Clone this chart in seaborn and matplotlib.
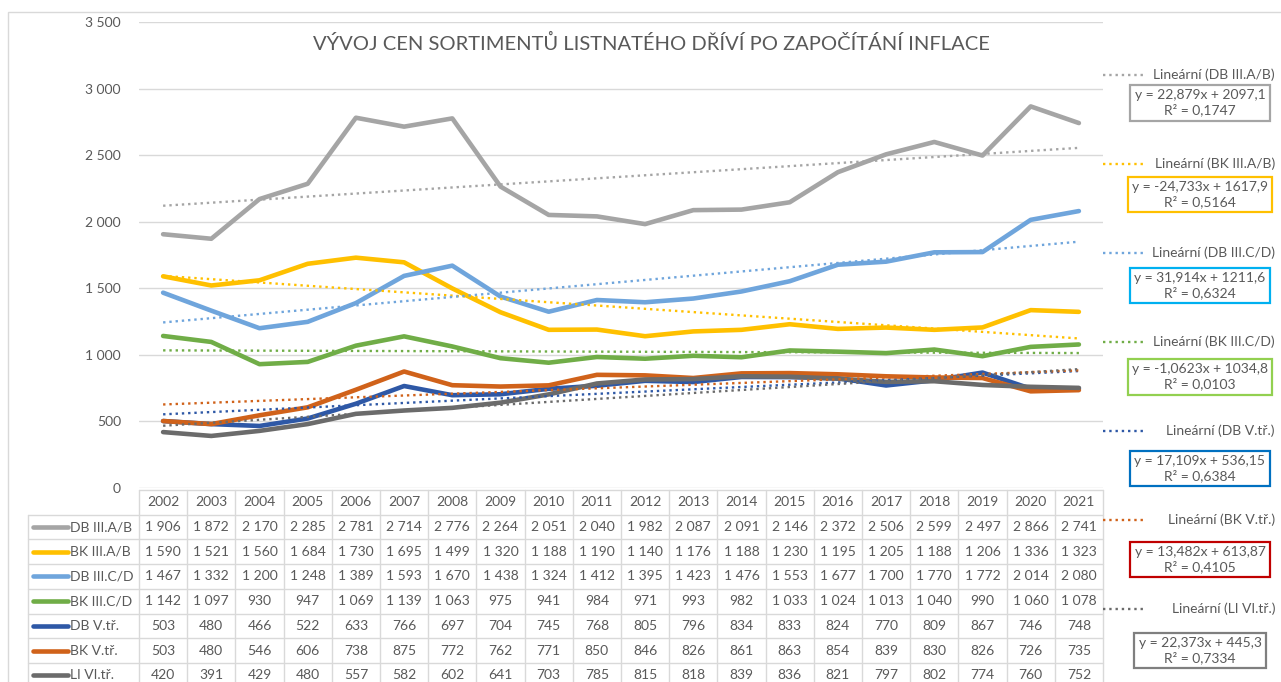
import numpy as np
import pandas as pd
import matplotlib
matplotlib.use('Agg')
import matplotlib.pyplot as plt
import seaborn as sns
from matplotlib.lines import Line2D
from matplotlib.patches import Rectangle

years = list(range(2002, 2022))
series = ['DB III.A/B', 'BK III.A/B', 'DB III.C/D', 'BK III.C/D', 'DB V.tř.', 'BK V.tř.', 'LI VI.tř.']
db_3ab = [1906, 1872, 2170, 2285, 2781, 2714, 2776, 2264, 2051, 2040, 1982, 2087, 2091, 2146, 2372, 2506, 2599, 2497, 2866, 2741]
bk_3ab = [1590, 1521, 1560, 1684, 1730, 1695, 1499, 1320, 1188, 1190, 1140, 1176, 1188, 1230, 1195, 1205, 1188, 1206, 1336, 1323]
db_3cd = [1467, 1332, 1200, 1248, 1389, 1593, 1670, 1438, 1324, 1412, 1395, 1423, 1476, 1553, 1677, 1700, 1770, 1772, 2014, 2080]
bk_3cd = [1142, 1097, 930, 947, 1069, 1139, 1063, 975, 941, 984, 971, 993, 982, 1033, 1024, 1013, 1040, 990, 1060, 1078]
db_5 = [503, 480, 466, 522, 633, 766, 697, 704, 745, 768, 805, 796, 834, 833, 824, 770, 809, 867, 746, 748]
bk_5 = [503, 480, 546, 606, 738, 875, 772, 762, 771, 850, 846, 826, 861, 863, 854, 839, 830, 826, 726, 735]
li_6 = [420, 391, 429, 480, 557, 582, 602, 641, 703, 785, 815, 818, 839, 836, 821, 797, 802, 774, 760, 752]
values = [db_3ab, bk_3ab, db_3cd, bk_3cd, db_5, bk_5, li_6]

# linear trendlines as shown in the chart (x = 1..20)
slopes = [22.879, -24.733, 31.914, -1.0623, 17.109, 13.482, 22.373]
intercepts = [2097.1, 1617.9, 1211.6, 1034.8, 536.15, 613.87, 445.3]
r2_values = [0.1747, 0.5164, 0.6324, 0.0103, 0.6384, 0.4105, 0.7334]

line_colors = ['#a5a5a5', '#ffc000', '#6fa5dc', '#70ad47', '#2e58a6', '#d0621a', '#6b6b6b']
box_colors = ['#a5a5a5', '#ffc000', '#00b0f0', '#92d050', '#0070c0', '#c00000', '#7f7f7f']
palette = dict(zip(series, line_colors))

W, H = 1281, 682
txt = '#595959'
grid_c = '#d9d9d9'
fs = 10


def cz(a):
    return f'{a:g}'.replace('.', ',')


rows = []
trend_rows = []
eqs = []
for s, v, k, q, r2 in zip(series, values, slopes, intercepts, r2_values):
    for i, val in enumerate(v):
        rows.append((s, i, val))
        trend_rows.append((s, i, k * (i + 1) + q))
    eqs.append(f'y = {cz(k)}x + {cz(q)}\nR² = {r2:.4f}'.replace('.', ','))
df = pd.DataFrame(rows, columns=['series', 'pos', 'value'])
df_trend = pd.DataFrame(trend_rows, columns=['series', 'pos', 'value'])

sns.set_theme(style='white')
plt.rcParams['font.family'] = ['Lato', 'DejaVu Sans']

fig = plt.figure(figsize=(W / 100, H / 100), dpi=100)

# outer chart border
fig.add_artist(Rectangle((8 / W, -0.05), 1.2, 1 - 12 / H + 0.05, transform=fig.transFigure,
                         fill=False, ec=grid_c, lw=1))

ax = fig.add_axes([139 / W, 1 - 488 / H, (1103 - 139) / W, (488 - 22) / H])
sns.lineplot(data=df, x='pos', y='value', hue='series', hue_order=series, palette=palette,
             lw=3.3, legend=False, ax=ax, solid_capstyle='round')
sns.lineplot(data=df_trend, x='pos', y='value', hue='series', hue_order=series, palette=palette,
             lw=1.7, linestyle=':', legend=False, ax=ax)
ax.set_xlim(-0.5, 19.5)
ax.set_ylim(0, 3500)
ax.set_yticks(range(0, 3501, 500))
ax.set_yticklabels([f'{t:,}'.replace(',', ' ') for t in range(0, 3501, 500)], color=txt, fontsize=fs)
ax.tick_params(axis='y', length=0, pad=13)
ax.set_xticks([])
ax.set_xlabel('')
ax.set_ylabel('')
ax.yaxis.grid(True, color=grid_c, lw=1)
ax.set_axisbelow(True)
for sp in ax.spines.values():
    sp.set_visible(False)

fig.text(651 / W, 1 - 43 / H, 'VÝVOJ CEN SORTIMENTŮ LISTNATÉHO DŘÍVÍ PO ZAPOČÍTÁNÍ INFLACE',
         ha='center', va='center', fontsize=14.5, color=txt)

# data table below the chart
rh = 24.7
tab = fig.add_axes([139 / W, 1 - (490 + 8 * rh) / H, (1103 - 139) / W, 8 * rh / H])
tab.set_xlim(-0.5, 19.5)
tab.set_ylim(8, 0)
tab.axis('off')
xl = -2.8
tab.plot([-0.5, 19.5], [0, 0], color=grid_c, lw=1, clip_on=False)
for r in range(1, 9):
    tab.plot([xl, 19.5], [r, r], color=grid_c, lw=1, clip_on=False)
for c in range(21):
    tab.plot([c - 0.5, c - 0.5], [0, 8], color=grid_c, lw=1, clip_on=False)
tab.plot([xl, xl], [1, 8], color=grid_c, lw=1, clip_on=False)
for c, yr in enumerate(years):
    tab.text(c, 0.5, str(yr), ha='center', va='center', fontsize=fs, color=txt)
for r, (s, v) in enumerate(zip(series, values), start=1):
    tab.plot([-2.7, -1.97], [r + 0.5, r + 0.5], color=palette[s], lw=3.3, clip_on=False,
             solid_capstyle='round')
    tab.text(-1.93, r + 0.5, s, ha='left', va='center', fontsize=fs, color=txt)
    for c, val in enumerate(v):
        tab.text(c, r + 0.5, f'{val:,}'.replace(',', ' '), ha='center', va='center',
                 fontsize=fs, color=txt)

# trendline legend with equations
for i, s in enumerate(series):
    ly = 1 - (75 + i * 89) / H
    fig.add_artist(Line2D([1103 / W, 1145 / W], [ly, ly], transform=fig.transFigure,
                          color=palette[s], lw=1.7, linestyle=':'))
    fig.text(1275 / W, ly, f'Lineární ({s})', ha='right', va='center', fontsize=fs, color=txt)
    by = 1 - (103 + i * 91.3) / H
    fig.text(1200 / W, by, eqs[i], ha='center', va='center', fontsize=fs, color=txt,
             multialignment='center', linespacing=1.2,
             bbox=dict(boxstyle='square,pad=0.3', fc='white', ec=box_colors[i], lw=1.6))

fig.savefig('out.png', dpi=100)
